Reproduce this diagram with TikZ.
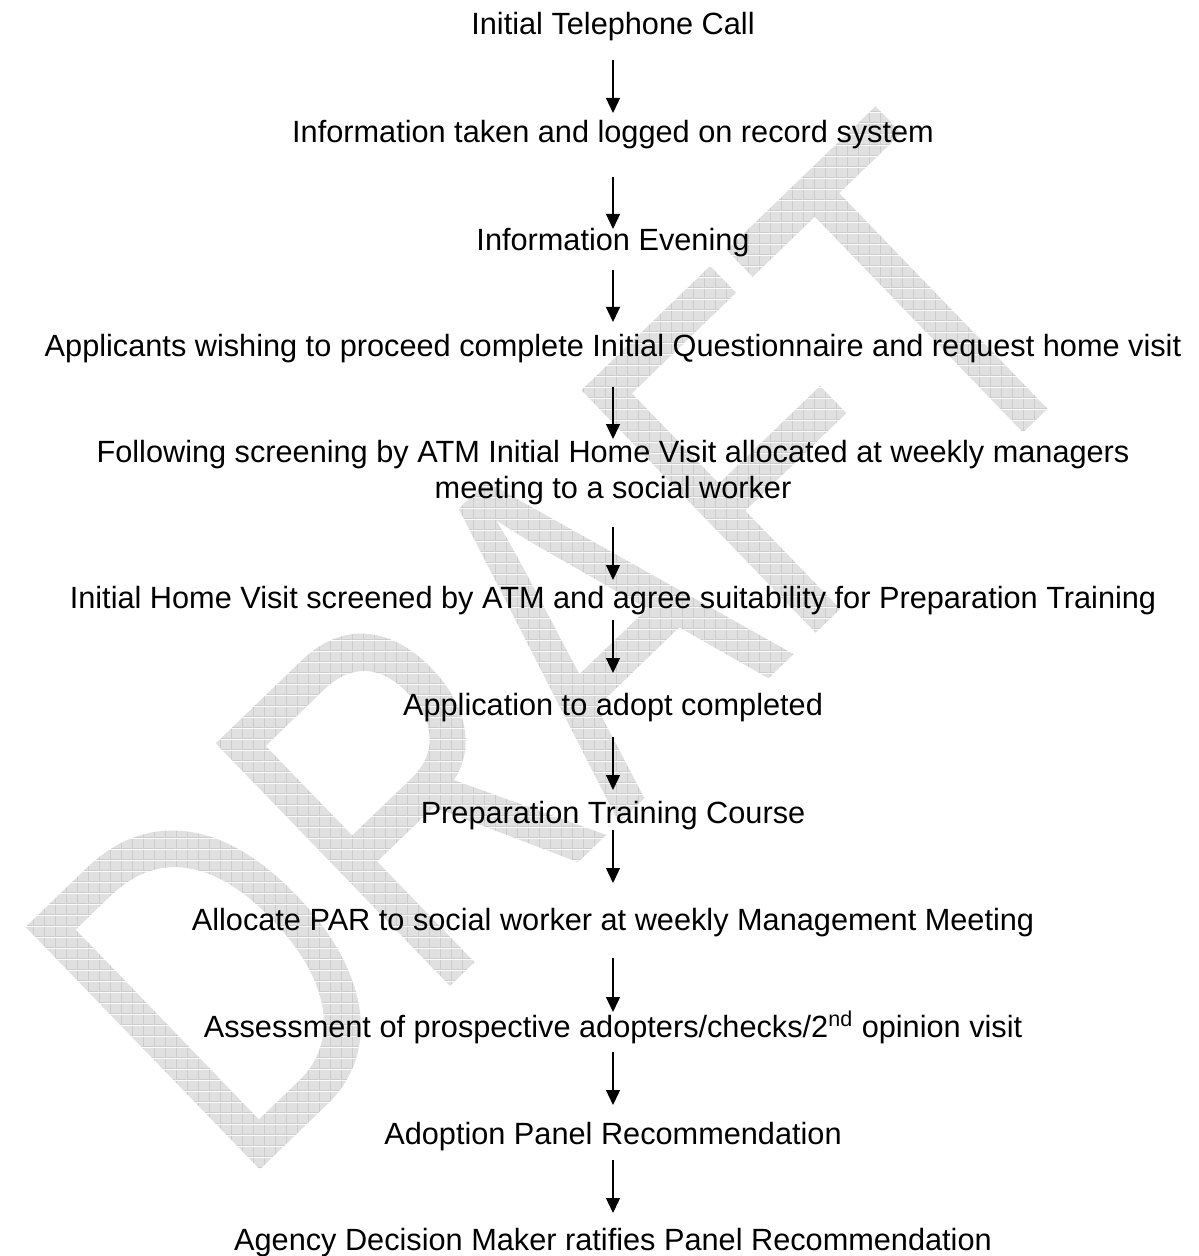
\documentclass[tikz,border=0pt]{standalone}
\usepackage{fontspec}
\setmainfont{Liberation Sans}
\usetikzlibrary{arrows.meta}
\definecolor{wm}{RGB}{221,221,221}
\newcommand{\wmpattern}{%
  \special{pdf:stream @wmpat (0.88 g 0 0 5.23 5.23 re f 0.80 g 0 0 5.23 0.5 re f 0 0 0.5 5.23 re f) << /Type /Pattern /PatternType 1 /PaintType 1 /TilingType 1 /BBox [0 0 5.23 5.23] /XStep 5.23 /YStep 5.23 /Resources << >> >>}%
  \special{pdf:put @resources << /Pattern << /WMpat @wmpat >> >>}%
  \special{pdf:literal direct /Pattern cs /WMpat scn}}
\tikzset{
  lbl/.style={anchor=base, inner sep=0pt, font=\fontsize{15.35pt}{17.6pt}\selectfont, align=center},
  arr/.style={line width=0.65pt, -{Triangle[width=7pt,length=7.5pt]}},
}
\begin{document}
\begin{tikzpicture}[x=0.5pt,y=0.5pt]
\useasboundingbox (0,0) rectangle (1198,-1256);
\fill[white] (0,0) rectangle (1198,-1256);
% watermark
\begin{scope}[shift={(238,-1190.5)}, rotate=44]
  \node[anchor=base west, inner sep=0pt, xscale=0.747, transform shape, text=wm,
        font=\fontsize{245pt}{245pt}\selectfont] (wmk) at (0,0) {\wmpattern DRAFT};
\end{scope}
% steps
\node[lbl] (n1)  at (613,-35)   {Initial Telephone Call};
\node[lbl] (n2)  at (613,-143)  {Information taken and logged on record system};
\node[lbl] (n3)  at (613,-251)  {Information Evening};
\node[lbl] (n4)  at (613,-357)  {Applicants wishing to proceed complete Initial Questionnaire and request home visit};
\node[lbl] (n5)  at (613,-498)  {Following screening by ATM Initial Home Visit allocated at weekly managers\\meeting to a social worker};
\node[lbl] (n6)  at (613,-608)  {Initial Home Visit screened by ATM and agree suitability for Preparation Training};
\node[lbl] (n7)  at (613,-715)  {Application to adopt completed};
\node[lbl] (n8)  at (613,-823)  {Preparation Training Course};
\node[lbl] (n9)  at (613,-930)  {Allocate PAR to social worker at weekly Management Meeting};
\node[lbl] (n10) at (613,-1037) {Assessment of prospective adopters/checks/2\textsuperscript{nd} opinion visit};
\node[lbl] (n11) at (613,-1144) {Adoption Panel Recommendation};
\node[lbl] (n12) at (613,-1250) {Agency Decision Maker ratifies Panel Recommendation};
% arrows
\draw[arr, shorten <=12.5pt, shorten >=15pt]   (n1.base)  -- (n2.base);
\draw[arr, shorten <=17pt,   shorten >=11pt]   (n2.base)  -- (n3.base);
\draw[arr, shorten <=9.5pt,  shorten >=17.5pt] (n3.base)  -- (n4.base);
\draw[arr, shorten <=15pt,   shorten >=29.5pt] (n4.base)  -- (n5.base);
\draw[arr, shorten <=14.5pt, shorten >=14pt]   (n5.base)  -- (n6.base);
\draw[arr, shorten <=6pt,    shorten >=21pt]   (n6.base)  -- (n7.base);
\draw[arr, shorten <=11pt,   shorten >=16.5pt] (n7.base)  -- (n8.base);
\draw[arr, shorten <=3.5pt,  shorten >=23.5pt] (n8.base)  -- (n9.base);
\draw[arr, shorten <=14pt,   shorten >=12.5pt] (n9.base)  -- (n10.base);
\draw[arr, shorten <=7.5pt,  shorten >=19.5pt] (n10.base) -- (n11.base);
\draw[arr, shorten <=8pt,    shorten >=18.5pt] (n11.base) -- (n12.base);
\end{tikzpicture}
\end{document}
